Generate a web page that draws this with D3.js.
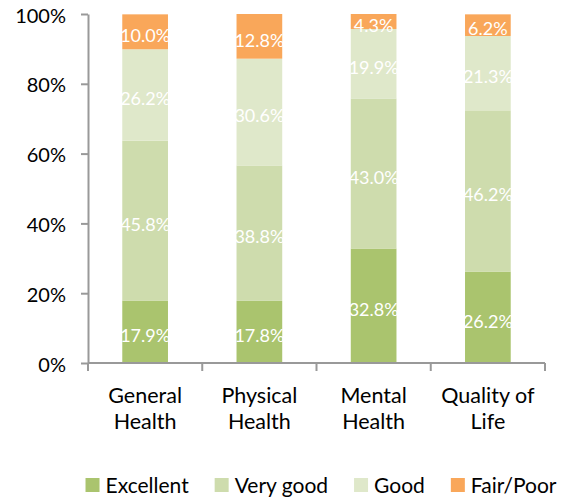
<!DOCTYPE html>
<html>
<head>
<meta charset="utf-8">
<script src="https://cdn.jsdelivr.net/npm/d3@7"></script>
<style>
  body { margin: 0; background: #fff; }
  text { font-family: Lato, "Open Sans", sans-serif; }
</style>
</head>
<body>
<div id="chart"></div>
<script>
const categories = [["General", "Health"], ["Physical", "Health"], ["Mental", "Health"], ["Quality of", "Life"]];
const seriesNames = ["Excellent", "Very good", "Good", "Fair/Poor"];
const excellent = [17.9, 17.8, 32.8, 26.2];
const veryGood = [45.8, 38.8, 43.0, 46.2];
const good = [26.2, 30.6, 19.9, 21.3];
const fairPoor = [10.0, 12.8, 4.3, 6.2];
const yTicks = [0, 20, 40, 60, 80, 100];
const colors = ["#aac46e", "#cedcad", "#dfe8ca", "#f9a75a"];

const rows = categories.map((c, i) => ({
  key: c.join(" "),
  lines: c,
  "Excellent": excellent[i],
  "Very good": veryGood[i],
  "Good": good[i],
  "Fair/Poor": fairPoor[i]
}));

const dimensions = {
  width: 566,
  height: 500,
  margin: { top: 14, right: 21, bottom: 137, left: 88 }
};
dimensions.boundedWidth = dimensions.width - dimensions.margin.left - dimensions.margin.right;
dimensions.boundedHeight = dimensions.height - dimensions.margin.top - dimensions.margin.bottom;

const wrapper = d3.select("#chart")
  .append("svg")
    .attr("width", dimensions.width)
    .attr("height", dimensions.height);

const bounds = wrapper.append("g")
  .attr("transform", `translate(${dimensions.margin.left}, ${dimensions.margin.top})`);

const xScale = d3.scaleBand()
  .domain(rows.map(d => d.key))
  .range([0, dimensions.boundedWidth])
  .paddingInner(0.6)
  .paddingOuter(0.3);

const yScale = d3.scaleLinear()
  .domain([0, 100])
  .range([dimensions.boundedHeight, 0]);

const colorScale = d3.scaleOrdinal()
  .domain(seriesNames)
  .range(colors);

const stackedData = d3.stack().keys(seriesNames)(rows);

// bars
const layers = bounds.append("g")
  .selectAll("g")
  .data(stackedData)
  .join("g")
    .attr("fill", d => colorScale(d.key));

layers.selectAll("rect")
  .data(d => d)
  .join("rect")
    .attr("x", d => xScale(d.data.key))
    .attr("width", xScale.bandwidth())
    .attr("y", d => yScale(d[1]))
    .attr("height", d => yScale(d[0]) - yScale(d[1]));

// white value labels
layers.selectAll("text")
  .data(d => d.map(v => ({ v, key: d.key })))
  .join("text")
    .attr("x", d => xScale(d.v.data.key) + xScale.bandwidth() / 2)
    .attr("y", d => (yScale(d.v[0]) + yScale(d.v[1])) / 2 + 4)
    .attr("dy", "0.35em")
    .attr("text-anchor", "middle")
    .attr("fill", "#fff")
    .attr("font-size", "18px")
    .text(d => d3.format(".1f")(d.v.data[d.key]) + "%");

// y axis
const axisColor = "#999";
const yAxis = bounds.append("g")
  .call(d3.axisLeft(yScale).tickValues(yTicks).tickFormat(d => d + "%").tickSize(7).tickPadding(15).tickSizeOuter(0))
  .call(g => g.select(".domain").attr("stroke", axisColor).attr("stroke-width", 2))
  .call(g => g.selectAll(".tick line").attr("stroke", axisColor).attr("stroke-width", 2))
  .call(g => g.selectAll(".tick text")
    .attr("font-size", "20px")
    .attr("fill", "#000")
    .attr("dy", "0.4em"));

// x axis with ticks between categories
const xAxis = bounds.append("g")
  .attr("transform", `translate(0, ${dimensions.boundedHeight})`);

xAxis.append("line")
  .attr("x1", 0)
  .attr("x2", dimensions.boundedWidth)
  .attr("stroke", axisColor)
  .attr("stroke-width", 2);

const step = xScale.step();
const boundaries = d3.range(rows.length + 1).map(i => xScale(rows[0].key) - xScale.step() * xScale.paddingInner() / 2 + i * step);
xAxis.selectAll(".sep")
  .data(boundaries)
  .join("line")
    .attr("class", "sep")
    .attr("x1", d => d)
    .attr("x2", d => d)
    .attr("y1", 0)
    .attr("y2", 8)
    .attr("stroke", axisColor)
    .attr("stroke-width", 2);

const labels = xAxis.selectAll(".cat")
  .data(rows)
  .join("text")
    .attr("class", "cat")
    .attr("text-anchor", "middle")
    .attr("font-size", "21.5px")
    .attr("fill", "#000")
    .attr("transform", d => `translate(${xScale(d.key) + xScale.bandwidth() / 2}, 40)`);

labels.selectAll("tspan")
  .data(d => d.lines)
  .join("tspan")
    .attr("x", 0)
    .attr("y", (d, i) => i * 26)
    .text(d => d);

// legend
const legend = wrapper.append("g")
  .attr("transform", "translate(0, 478)");

const items = legend.selectAll("g")
  .data(seriesNames)
  .join("g");

items.append("rect")
  .attr("width", 14)
  .attr("height", 14)
  .attr("fill", d => colorScale(d));

items.append("text")
  .attr("x", 20)
  .attr("y", 15)
  .attr("font-size", "21px")
  .attr("fill", "#000")
  .text(d => d);

let offset = 0;
const widths = [];
items.each(function() {
  const w = 20 + this.querySelector("text").getComputedTextLength();
  widths.push(w);
});
const totalWidth = d3.sum(widths) + 26 * (widths.length - 1);
offset = 321 - totalWidth / 2;
items.attr("transform", (d, i) => {
  const x = offset;
  offset += widths[i] + 26;
  return `translate(${x}, 0)`;
});
</script>
</body>
</html>
